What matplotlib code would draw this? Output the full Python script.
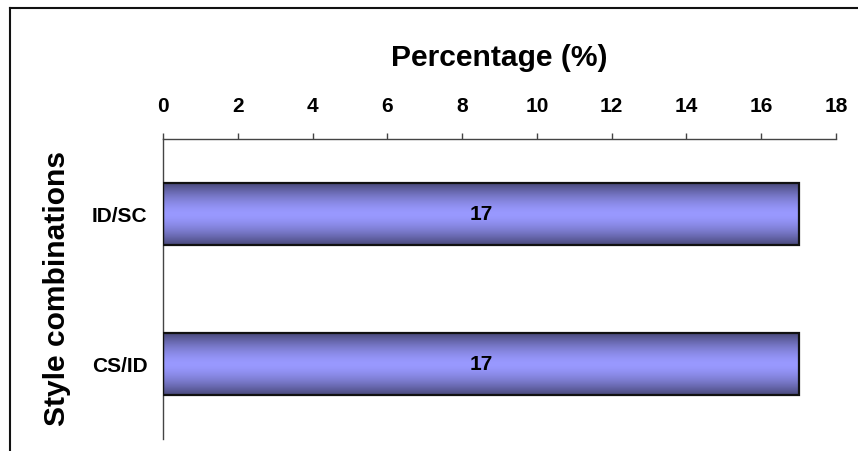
import numpy as np
import matplotlib
matplotlib.use("Agg")
import matplotlib.pyplot as plt
from matplotlib.lines import Line2D
from matplotlib.colors import LinearSegmentedColormap

# Data
categories = ["ID/SC", "CS/ID"]
percentages = [17, 17]
x_ticks = [0, 2, 4, 6, 8, 10, 12, 14, 16, 18]

plt.rcParams["font.family"] = ["Liberation Sans", "DejaVu Sans"]
plt.rcParams["font.weight"] = "bold"

W, H = 858, 452
fig = plt.figure(figsize=(W / 100, H / 100), dpi=100)
fig.patch.set_facecolor("white")

# plot area in pixel coordinates -> figure fractions
left_px, right_px, top_px, bottom_px = 163, 836, 140, 440
ax = fig.add_axes([left_px / W, 1 - bottom_px / H,
                   (right_px - left_px) / W, (bottom_px - top_px) / H])

ypos = np.arange(len(categories))
bar_h = 0.41
bars = ax.barh(ypos, percentages, height=bar_h, facecolor="none",
               edgecolor="#111111", linewidth=1.6, zorder=3)

# vertical shading inside each bar: dark edges, light middle
dark = np.array([72, 72, 122]) / 255
light = np.array([153, 153, 255]) / 255
cmap = LinearSegmentedColormap.from_list("bar_shade", [dark, light])
t = np.linspace(0, 1, 200)
profile = 1 - np.abs(2 * t - 1) ** 1.6
grad = profile.reshape(-1, 1)
for b in bars:
    x0, y0 = b.get_x(), b.get_y()
    x1, y1 = x0 + b.get_width(), y0 + b.get_height()
    ax.imshow(grad, cmap=cmap, vmin=0, vmax=1, aspect="auto",
              extent=(x0, x1, y1, y0), zorder=2, interpolation="bilinear")

for b, v in zip(bars, percentages):
    ax.text(b.get_x() + b.get_width() / 2, b.get_y() + b.get_height() / 2,
            f"{v}", ha="center", va="center", fontsize=15, fontweight="bold",
            color="black", zorder=4)

ax.set_xlim(0, 18)
ax.set_ylim(len(categories) - 0.5, -0.5)
ax.set_xticks(x_ticks)
ax.set_xticklabels([str(v) for v in x_ticks])
ax.set_yticks(ypos)
ax.set_yticklabels(categories)

ax.xaxis.tick_top()
ax.tick_params(axis="x", direction="out", length=4.5, width=1, color="#444444",
               labelsize=15, pad=12.5)
ax.tick_params(axis="y", length=0, labelsize=15, pad=11)
for lbl in ax.get_xticklabels() + ax.get_yticklabels():
    lbl.set_fontweight("bold")

for side in ["right", "bottom"]:
    ax.spines[side].set_visible(False)
for side in ["top", "left"]:
    ax.spines[side].set_color("#444444")
    ax.spines[side].set_linewidth(1)

# axis titles
fig.text((left_px + right_px) / 2 / W, 1 - 66 / H, "Percentage (%)",
         ha="center", va="baseline", fontsize=21.6, fontweight="bold")
fig.text(57 / W, 1 - 289 / H, "Style combinations", rotation=90,
         ha="center", va="center", fontsize=21.6, fontweight="bold")

# chart frame
fig.add_artist(Line2D([10 / W, 1], [1 - 9 / H, 1 - 9 / H], color="#111111",
                      linewidth=1.5, transform=fig.transFigure))
fig.add_artist(Line2D([10 / W, 10 / W], [1 - 9 / H, 0], color="#111111",
                      linewidth=1.5, transform=fig.transFigure))

fig.savefig("out.png", dpi=100)
